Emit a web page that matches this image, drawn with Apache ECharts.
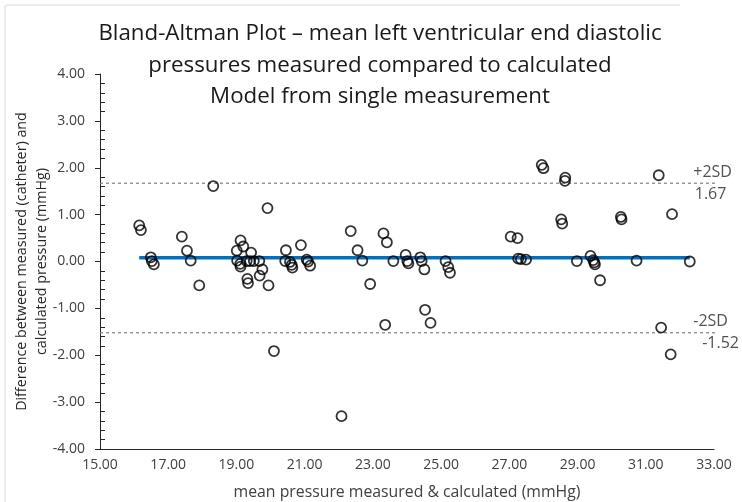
<!DOCTYPE html>
<html>
<head>
<meta charset="utf-8">
<script src="https://cdn.jsdelivr.net/npm/echarts@6/dist/echarts.min.js"></script>
<style>html,body{margin:0;padding:0;background:#fff}#c{width:742px;height:502px}</style>
</head>
<body>
<div id="c"></div>
<script>
// mean pressure (x) and difference (y)
const meanPressure = [16.15,16.20,16.49,16.52,16.58,17.40,17.55,17.66,17.91,18.32,
  19.12,19.20,19.01,19.02,19.11,19.12,19.43,19.30,19.40,19.51,
  19.67,19.76,19.68,19.32,19.34,19.94,19.91,20.10,20.45,20.43,
  20.57,20.62,20.64,20.89,21.06,21.10,21.16,22.35,22.55,22.69,
  22.92,22.08,23.31,23.41,23.60,23.36,23.96,24.01,24.04,24.39,
  24.43,24.51,24.53,24.69,25.13,25.21,25.26,27.04,27.24,27.26,
  27.34,27.49,27.95,28.00,28.52,28.55,28.64,28.63,28.98,29.38,
  29.46,29.49,29.51,29.66,30.27,30.29,30.73,31.38,31.77,31.45,
  31.73,32.29];
const difference = [0.77,0.67,0.09,0.01,-0.06,0.53,0.23,0.02,-0.51,1.61,
  0.45,0.32,0.23,0.02,-0.05,-0.11,0.19,0.01,0.01,0.01,
  0.01,-0.17,-0.30,-0.37,-0.46,-0.51,1.14,-1.91,0.24,0.01,
  -0.01,-0.07,-0.13,0.35,0.04,0.00,-0.09,0.65,0.24,0.02,
  -0.48,-3.30,0.60,0.41,0.01,-1.35,0.14,0.01,-0.04,0.09,
  0.01,-0.17,-1.03,-1.31,0.01,-0.12,-0.24,0.53,0.50,0.06,
  0.05,0.04,2.06,1.99,0.90,0.81,1.79,1.72,0.01,0.12,
  0.03,-0.02,-0.06,-0.40,0.95,0.90,0.02,1.84,1.01,-1.41,
  -1.98,0.00];
const meanDiff = 0.08;
const upperLimit = 1.67;
const lowerLimit = -1.52;
const limitLineX = [15, 33.35];
const limitLabelX = 32.9;
const upperLabel = ['+2SD', '1.67'];
const lowerLabel = ['-2SD', '-1.52'];
const xTicks = {min: 15, max: 33, interval: 2};
const yTicks = {min: -4, max: 4, interval: 1};

const FONT = 'Open Sans';
const points = meanPressure.map((x, i) => [x, difference[i]]);
const xMin = Math.min(...meanPressure), xMax = Math.max(...meanPressure);

const chart = echarts.init(document.getElementById('c'), null, {renderer: 'canvas'});
chart.setOption({
  animation: false,
  backgroundColor: '#fff',
  textStyle: {fontFamily: FONT},
  title: {
    text: 'Bland-Altman Plot – mean left ventricular end diastolic\npressures measured compared to calculated\nModel from single measurement',
    left: 375, top: 13, textAlign: 'center',
    textStyle: {fontFamily: FONT, fontSize: 22.3, fontWeight: 'normal', color: '#1a1a1a', lineHeight: 31.5}
  },
  grid: {left: 100, right: 28, top: 74, bottom: 53, containLabel: false, outerBoundsMode: 'none'},
  xAxis: {
    type: 'value', min: xTicks.min, max: xTicks.max, interval: xTicks.interval,
    name: 'mean pressure measured & calculated (mmHg)', nameLocation: 'middle', nameGap: 35,
    nameMoveOverlap: false,
    nameTextStyle: {fontFamily: FONT, fontSize: 15.8, color: '#404040'},
    axisLine: {show: true, onZero: false, lineStyle: {color: '#262626', width: 1}},
    axisTick: {show: false},
    splitLine: {show: false},
    axisLabel: {formatter: v => v.toFixed(2), fontFamily: FONT, fontSize: 14, color: '#404040', margin: 9}
  },
  yAxis: {
    type: 'value', min: yTicks.min, max: yTicks.max, interval: yTicks.interval,
    name: 'Difference between measured (catheter) and\ncalculated pressure (mmHg)',
    nameLocation: 'middle', nameGap: 48, nameMoveOverlap: false,
    nameTextStyle: {fontFamily: FONT, fontSize: 14.3, color: '#262626', lineHeight: 20},
    axisLine: {show: true, onZero: false, lineStyle: {color: '#262626', width: 1}},
    axisTick: {show: true, length: 5, lineStyle: {color: '#262626'}},
    minorTick: {show: true, splitNumber: 5, length: -5, lineStyle: {color: '#262626'}},
    splitLine: {show: false},
    axisLabel: {formatter: v => v.toFixed(2), fontFamily: FONT, fontSize: 14, color: '#404040', margin: 15}
  },
  graphic: [
    {type: 'line', shape: {x1: 6, y1: 5, x2: 680, y2: 5}, style: {stroke: '#d9d9d9', lineWidth: 1}},
    {type: 'line', shape: {x1: 5, y1: 5, x2: 5, y2: 502}, style: {stroke: '#d9d9d9', lineWidth: 1}}
  ],
  series: [
    {
      type: 'line', data: limitLineX.map(x => [x, upperLimit]), symbol: 'none', clip: false,
      lineStyle: {color: '#808080', width: 1.2, type: [3, 3]}, z: 1
    },
    {
      type: 'line', data: limitLineX.map(x => [x, lowerLimit]), symbol: 'none', clip: false,
      lineStyle: {color: '#808080', width: 1.2, type: [3, 3]}, z: 1
    },
    {
      type: 'line', data: [[xMin, meanDiff], [xMax, meanDiff]], symbol: 'none',
      lineStyle: {color: '#0070C0', width: 3.5}, z: 2
    },
    {
      type: 'scatter', data: points, symbol: 'circle', symbolSize: 10,
      itemStyle: {color: 'rgba(0,0,0,0)', borderColor: '#000', borderWidth: 1.8}, z: 3
    },
    {
      type: 'scatter', symbolSize: 1, itemStyle: {color: 'rgba(0,0,0,0)'}, silent: true, z: 4, clip: false,
      data: [
        {value: [limitLabelX, upperLimit], label: {show: true, position: 'inside', formatter: '{a|' + upperLabel[0] + '}\n{b|' + upperLabel[1] + '}',
          rich: {a: {fontFamily: FONT, fontSize: 16, color: '#262626', lineHeight: 22, padding: [0, 0, 0, 4]},
                 b: {fontFamily: FONT, fontSize: 16, color: '#262626', lineHeight: 22}}}},
        {value: [limitLabelX, lowerLimit], label: {show: true, position: 'inside', formatter: '{a|' + lowerLabel[0] + '}\n{b|' + lowerLabel[1] + '}',
          rich: {a: {fontFamily: FONT, fontSize: 16, color: '#262626', lineHeight: 22, padding: [0, 0, 0, 0]},
                 b: {fontFamily: FONT, fontSize: 16, color: '#262626', lineHeight: 22, padding: [0, 0, 0, 20]}}}}
      ]
    }
  ]
});
</script>
</body>
</html>
